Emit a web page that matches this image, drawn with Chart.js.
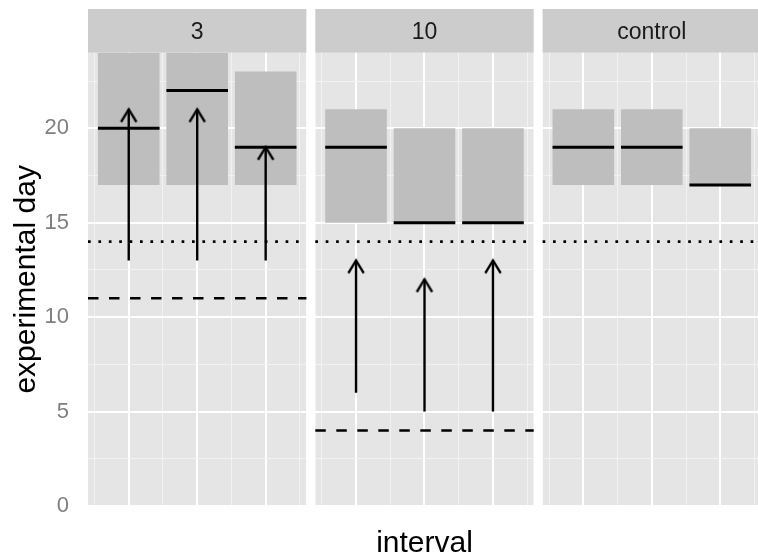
<!DOCTYPE html>
<html>
<head>
    <title>Experimental day by interval</title>
    <script src="https://cdn.jsdelivr.net/npm/chart.js"></script>
    <style>
        html, body { margin: 0; padding: 0; overflow: hidden; background: #fff; }
    </style>
</head>
<body>

<canvas id="myChart" width="761" height="559"></canvas>

<script>
    // facets, left to right
    const panels = ['3', '10', 'control'];
    // three boxes per facet, at x = 1, 2, 3
    const positions = [1, 2, 3];
    const boxLow = [[17, 17, 17], [15, 15, 15], [17, 17, 17]];
    const boxHigh = [[24, 24, 23], [21, 20, 20], [21, 21, 20]];
    const boxMid = [[20, 22, 19], [19, 15, 15], [19, 19, 17]];
    // arrows, start -> tip (none in control)
    const arrowFrom = [[13, 13, 13], [6, 5, 5], []];
    const arrowTo = [[21, 21, 19], [13, 12, 13], []];
    // reference lines per facet
    const dottedDay = [14, 14, 14];
    const dashedDay = [11, 4, null];
    // axes
    const yMajor = [0, 5, 10, 15, 20];
    const yMinor = [2.5, 7.5, 12.5, 17.5, 22.5];
    const yMax = 24;
    const xMajor = [1, 2, 3];
    const xMinor = [0.5, 1.5, 2.5, 3.5];

    const family = '"Liberation Sans", Arial, Helvetica, sans-serif';

    // each facet shows x from 0.405 to 3.595, facets joined on one linear axis
    const localMin = 0.405, localMax = 3.595, gap = 0.13;
    const offset = p => p * (localMax - localMin + gap);
    const xEnd = offset(panels.length - 1) + localMax;

    const boxData = [], midData = [], shaftData = [], tipData = [];
    panels.forEach((name, p) => {
        positions.forEach((x, i) => {
            boxData.push({x: offset(p) + x, y: [boxLow[p][i], boxHigh[p][i]]});
            midData.push({x: offset(p) + x, y: boxMid[p][i]});
        });
        arrowTo[p].forEach((to, i) => {
            const x = offset(p) + positions[i];
            shaftData.push({x: x, y: arrowFrom[p][i]}, {x: x, y: to}, {x: x, y: null});
            tipData.push({x: x, y: to});
        });
    });

    function hline(days) {
        const pts = [];
        days.forEach((d, p) => {
            if (d === null) return;
            pts.push({x: offset(p) + localMin, y: d}, {x: offset(p) + localMax, y: d}, {x: offset(p) + localMax, y: null});
        });
        return pts;
    }

    function gridTicks(list) {
        return list.map(t => ({value: t.v, major: t.major})).sort((a, b) => a.value - b.value);
    }

    // open arrow head, tip at the centre of the canvas
    const head = document.createElement('canvas');
    head.width = 20;
    head.height = 30;
    const hctx = head.getContext('2d');
    hctx.strokeStyle = '#000';
    hctx.lineWidth = 2.4;
    hctx.beginPath();
    hctx.moveTo(2.3, 27.7);
    hctx.lineTo(10, 15);
    hctx.lineTo(17.7, 27.7);
    hctx.stroke();

    const facetPlugin = {
        id: 'facets',
        beforeDraw(chart) {
            const {ctx, chartArea: a, scales: {x}} = chart;
            ctx.save();
            panels.forEach((name, p) => {
                const l = x.getPixelForValue(offset(p) + localMin);
                const r = x.getPixelForValue(offset(p) + localMax);
                ctx.fillStyle = '#e5e5e5';
                ctx.fillRect(l, a.top, r - l, a.bottom - a.top);
                ctx.fillStyle = '#cccccc';
                ctx.fillRect(l, 9, r - l, a.top - 9);
                ctx.fillStyle = '#1a1a1a';
                ctx.font = '23px ' + family;
                ctx.textAlign = 'center';
                ctx.textBaseline = 'middle';
                ctx.fillText(name, (l + r) / 2, (9 + a.top) / 2 + 2);
            });
            ctx.restore();
        },
        beforeDatasetsDraw(chart) {
            // white gutters between facets
            const {ctx, chartArea: a, scales: {x}} = chart;
            ctx.save();
            ctx.fillStyle = '#ffffff';
            for (let p = 0; p < panels.length - 1; p++) {
                const l = x.getPixelForValue(offset(p) + localMax);
                const r = x.getPixelForValue(offset(p + 1) + localMin);
                ctx.fillRect(l, a.top, r - l, a.bottom - a.top);
            }
            ctx.restore();
        }
    };

    const ctx = document.getElementById('myChart').getContext('2d');
    const chart = new Chart(ctx, {
        type: 'bar',
        data: {
            datasets: [
                {
                    type: 'bar',
                    data: boxData,
                    backgroundColor: '#bebebe',
                    borderWidth: 0,
                    barPercentage: 0.9,
                    categoryPercentage: 1,
                    order: 5
                },
                {
                    type: 'line',
                    data: midData,
                    showLine: false,
                    pointStyle: 'line',
                    pointRadius: c => {
                        const s = c.chart.scales.x;
                        return (s.getPixelForValue(0.9) - s.getPixelForValue(0)) / 2;
                    },
                    pointBorderColor: '#000',
                    pointBorderWidth: 3,
                    order: 4
                },
                {
                    type: 'line',
                    data: hline(dottedDay),
                    borderColor: '#000',
                    borderWidth: 2.7,
                    borderDash: [2.7, 7.7],
                    borderCapStyle: 'butt',
                    pointRadius: 0,
                    spanGaps: false,
                    order: 3
                },
                {
                    type: 'line',
                    data: hline(dashedDay),
                    borderColor: '#000',
                    borderWidth: 2.5,
                    borderDash: [10.5, 10.5],
                    borderCapStyle: 'butt',
                    pointRadius: 0,
                    spanGaps: false,
                    order: 3
                },
                {
                    type: 'line',
                    data: shaftData,
                    borderColor: '#000',
                    borderWidth: 2.4,
                    pointRadius: 0,
                    spanGaps: false,
                    order: 2
                },
                {
                    type: 'line',
                    data: tipData,
                    showLine: false,
                    pointStyle: head,
                    pointRadius: 5,
                    order: 1
                }
            ]
        },
        options: {
            responsive: false,
            animation: false,
            devicePixelRatio: 1,
            events: [],
            layout: {
                autoPadding: false,
                padding: {top: 52.7, left: 0, right: 0, bottom: 0}
            },
            plugins: {
                legend: {display: false},
                tooltip: {enabled: false}
            },
            scales: {
                x: {
                    type: 'linear',
                    offset: false,
                    min: localMin,
                    max: xEnd,
                    grid: {display: false, offset: false},
                    border: {display: false},
                    ticks: {display: false},
                    afterBuildTicks: s => { s.ticks = panels.map((n, p) => ({value: offset(p) + 2})); },
                    afterFit: s => { s.height = 53; },
                    title: {
                        display: true,
                        text: 'interval',
                        color: '#000',
                        font: {size: 30, family: family},
                        padding: {top: 0, bottom: -3}
                    }
                },
                xg: {
                    type: 'linear',
                    axis: 'x',
                    position: 'bottom',
                    offset: false,
                    min: localMin,
                    max: xEnd,
                    border: {display: false},
                    ticks: {display: false},
                    grid: {
                        offset: false,
                        drawTicks: false,
                        color: c => c.tick && c.tick.major ? '#ffffff' : '#f2f2f2',
                        lineWidth: c => c.tick && c.tick.major ? 2 : 1
                    },
                    afterBuildTicks: s => {
                        const list = [];
                        panels.forEach((n, p) => {
                            xMajor.forEach(v => list.push({v: offset(p) + v, major: true}));
                            xMinor.forEach(v => list.push({v: offset(p) + v, major: false}));
                        });
                        s.ticks = gridTicks(list);
                    },
                    afterFit: s => { s.height = 0; }
                },
                y: {
                    min: 0,
                    max: yMax,
                    border: {display: false},
                    grid: {
                        drawTicks: false,
                        color: c => c.tick && c.tick.major ? '#ffffff' : '#f2f2f2',
                        lineWidth: c => c.tick && c.tick.major ? 2 : 1
                    },
                    afterBuildTicks: s => {
                        s.ticks = gridTicks(yMajor.map(v => ({v: v, major: true}))
                            .concat(yMinor.map(v => ({v: v, major: false}))));
                    },
                    ticks: {
                        autoSkip: false,
                        padding: 19,
                        color: '#7f7f7f',
                        font: {size: 22, family: family},
                        callback: v => yMajor.includes(v) ? String(v) : ''
                    },
                    afterFit: s => { s.width = 88; },
                    title: {
                        display: true,
                        text: 'experimental day',
                        color: '#000',
                        font: {size: 30, family: family},
                        padding: {top: 9, bottom: 0}
                    }
                }
            }
        },
        plugins: [facetPlugin]
    });
</script>

</body>
</html>
